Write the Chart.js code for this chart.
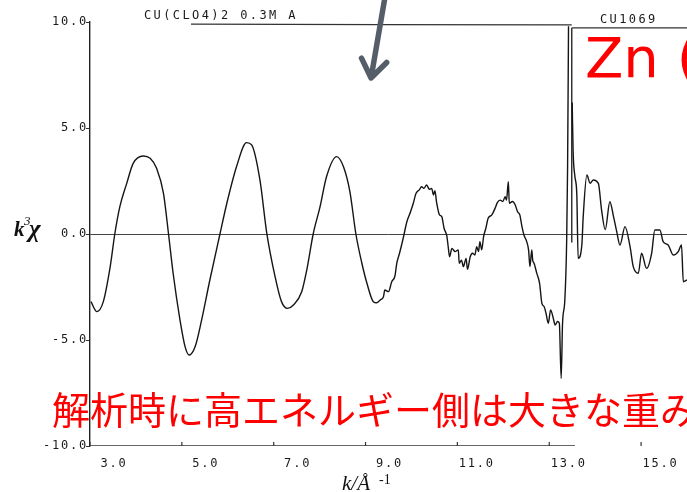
<!DOCTYPE html>
<html>
<head>
<meta charset="utf-8">
<script src="https://cdn.jsdelivr.net/npm/chart.js@4.4.1/dist/chart.umd.min.js"></script>
<style>
  html, body { margin: 0; padding: 0; background: #fff; }
  #wrap { width: 687px; height: 492px; }
</style>
</head>
<body>
<div id="wrap"><canvas id="exafs" width="687" height="492"></canvas></div>
<script>
// tick values
const kTicks = [3, 5, 7, 9, 11, 13, 15];
const chiTicks = [-10, -5, 0, 5, 10];

// CU(CLO4)2 0.3M A  (left scan)
const kLeft = [3.02, 3.15, 3.29, 3.44, 3.54, 3.65, 3.80, 3.94, 4.16, 4.31, 4.45, 4.60, 4.71, 4.81, 4.96,
  5.07, 5.16, 5.29, 5.43, 5.61, 5.83, 5.98, 6.19, 6.41, 6.52, 6.70, 6.85, 7.03, 7.17, 7.30, 7.43,
  7.61, 7.72, 7.86, 8.01, 8.15, 8.37, 8.52, 8.66, 8.79, 8.92, 9.03, 9.17, 9.24,
  9.32, 9.39, 9.42, 9.50, 9.57, 9.64, 9.68, 9.74, 9.82, 9.90, 9.98, 10.04, 10.10, 10.17, 10.22,
  10.27, 10.33, 10.39, 10.44, 10.48, 10.51, 10.55, 10.61, 10.66, 10.71, 10.77, 10.80, 10.83, 10.88,
  10.95, 11.02, 11.04, 11.09, 11.13, 11.19, 11.22, 11.28, 11.33, 11.38, 11.42, 11.46, 11.49, 11.53,
  11.57, 11.62, 11.67, 11.75, 11.82, 11.87, 11.93, 11.99, 12.04, 12.07, 12.11, 12.13, 12.20, 12.26,
  12.31, 12.36, 12.40, 12.45, 12.51, 12.55, 12.58, 12.62, 12.64, 12.67, 12.73, 12.79, 12.84, 12.89,
  12.93, 12.98, 13.03, 13.08, 13.13, 13.18, 13.22, 13.26, 13.29, 13.34, 13.38, 13.40, 13.42];
const chiLeft = [-3.19, -3.66, -3.19, -1.54, 0.0, 1.29, 2.39, 3.33, 3.68, 3.57, 3.10, 1.92, 0.0, -1.85, -4.06,
  -5.31, -5.71, -5.31, -4.06, -2.17, 0.0, 1.45, 3.17, 4.31, 4.20, 2.55, 0.03, -2.01, -3.19, -3.51, -3.35,
  -2.72, -1.70, 0.0, 1.29, 2.70, 3.65, 3.17, 1.99, 0.0, -1.38, -2.32, -3.19, -3.24,
  -3.11, -2.96, -2.64, -2.72, -2.25, -1.98, -1.38, -0.91, -0.20, 0.58, 1.05, 1.45, 1.92, 2.08, 2.23,
  2.15, 2.31, 2.11, 2.15, 1.84, 2.04, 1.45, 0.90, 0.82, 0.27, -0.09, -0.60, -1.07, -0.68,
  -0.83, -0.75, -1.38, -1.23, -1.54, -1.15, -1.67, -1.07, -0.91, -0.99, -0.60, -0.83, -0.36, -0.75,
  -0.13, 0.27, 0.74, 0.90, 1.21, 1.48, 1.60, 1.53, 1.76, 1.60, 2.47, 1.45, 1.53, 1.37,
  1.05, 0.90, 0.42, -0.05, -0.36, -0.75, -1.54, -0.75, -1.23, -1.38, -1.86, -2.33, -3.27, -3.43,
  -3.74, -4.21, -3.58, -3.90, -4.29, -4.13, -4.21, -6.81, -4.21, -3.11, -0.28, 3.18, 9.80];

// CU1069  (right scan)
const kRight = [13.50, 13.52, 13.56, 13.60, 13.63, 13.71, 13.74, 13.82, 13.89, 13.96, 14.07, 14.14, 14.22,
  14.32, 14.40, 14.47, 14.54, 14.65, 14.76, 14.83, 14.94, 15.01, 15.12, 15.23, 15.30, 15.41, 15.48,
  15.59, 15.70, 15.81, 15.88, 15.92, 16.00];
const chiRight = [6.20, 3.90, 2.70, 1.90, -1.15, -0.52, 0.82, 2.78, 2.39, 2.55, 2.39, 1.13, 0.20,
  1.52, 0.82, 0.11, -0.52, 0.35, -0.60, -1.54, -1.85, -0.91, -1.62, -0.91, 0.19, 0.19, -0.36,
  -0.52, -0.99, -0.83, -0.52, -2.25, -2.17];

// frame pieces of the two pasted scans
const topLeftK = [5.2, 13.49];
const topLeftChi = [9.9, 9.86];
const topRightK = [13.49, 16.0];
const topRightChi = [9.72, 9.72];
const edgeK = [13.49, 13.49];
const edgeChi = [9.72, -0.4];
const baseLeftK = [3.0, 13.56];
const baseLeftChi = [-10, -10];
const baseRightK = [14.37, 16.0];
const baseRightChi = [-10.08, -10.08];

// grey arrow annotation (data coordinates)
const arrowK = [9.42, 9.12];
const arrowChi = [11.13, 7.36];

const toPoints = (xs, ys) => xs.map((x, i) => ({ x: x, y: ys[i] }));

function lineSet(xs, ys, color, width) {
  return {
    data: toPoints(xs, ys),
    showLine: true,
    borderColor: color,
    borderWidth: width,
    pointRadius: 0,
    fill: false,
    cubicInterpolationMode: 'monotone'
  };
}

// wide printer-style spacing for the tick labels
const spacing = {
  id: 'spacing',
  beforeDraw(chart) { chart.ctx.letterSpacing = '1.8px'; },
  afterDraw(chart) { chart.ctx.letterSpacing = '0px'; }
};

const overlay = {
  id: 'overlay',
  afterDatasetsDraw(chart) {
    const ctx = chart.ctx;
    const xs = chart.scales.x, ys = chart.scales.y;
    ctx.save();
    ctx.letterSpacing = '0px';

    // inner tick marks on the k axis
    ctx.strokeStyle = '#333';
    ctx.lineWidth = 1.2;
    const yb = ys.getPixelForValue(-10);
    xs.ticks.forEach(t => {
      const px = xs.getPixelForValue(t.value);
      ctx.beginPath();
      ctx.moveTo(px, yb);
      ctx.lineTo(px, yb - 4);
      ctx.stroke();
    });

    // scan labels
    ctx.fillStyle = '#1a1a1a';
    ctx.font = '12px "DejaVu Sans Mono"';
    ctx.letterSpacing = '2.4px';
    ctx.textBaseline = 'alphabetic';
    ctx.fillText('CU(CLO4)2 0.3M A', 144, 19);
    ctx.fillText('CU1069', 600, 23);
    ctx.letterSpacing = '0px';

    // axis titles
    ctx.fillStyle = '#111';
    ctx.font = 'italic bold 21px "Liberation Serif"';
    ctx.fillText('k', 14, 236);
    ctx.font = 'italic 13px "Liberation Serif"';
    ctx.fillText('3', 24, 225);
    ctx.font = 'bold italic 25px "Liberation Serif"';
    ctx.fillText('χ', 29, 237);

    ctx.font = 'italic 21px "Liberation Serif"';
    ctx.fillText('k/Å', 342, 490);
    ctx.font = '14px "Liberation Serif"';
    ctx.fillText('-1', 379, 484);

    // arrow
    const x0 = xs.getPixelForValue(arrowK[0]), y0 = ys.getPixelForValue(arrowChi[0]);
    const x1 = xs.getPixelForValue(arrowK[1]), y1 = ys.getPixelForValue(arrowChi[1]);
    const ang = Math.atan2(y1 - y0, x1 - x0);
    ctx.strokeStyle = '#555d68';
    ctx.lineWidth = 5.5;
    ctx.lineCap = 'round';
    ctx.lineJoin = 'round';
    ctx.beginPath();
    ctx.moveTo(x0, y0);
    ctx.lineTo(x1, y1);
    ctx.moveTo(x1 - 22 * Math.cos(ang - 0.62), y1 - 22 * Math.sin(ang - 0.62));
    ctx.lineTo(x1, y1);
    ctx.lineTo(x1 - 22 * Math.cos(ang + 0.62), y1 - 22 * Math.sin(ang + 0.62));
    ctx.stroke();

    // red notes
    ctx.fillStyle = '#ff0000';
    ctx.font = '56px "DejaVu Sans"';
    ctx.fillText('Zn (', 585, 77);
    ctx.font = '38px "Noto Sans CJK JP"';
    ctx.fillText('解析時に高エネルギー側は大きな重み', 52, 424);
    ctx.restore();
  }
};

const chart = new Chart(document.getElementById('exafs').getContext('2d'), {
  type: 'scatter',
  data: {
    datasets: [
      lineSet(kLeft, chiLeft, '#151515', 1.4),
      lineSet(kRight, chiRight, '#151515', 1.4),
      lineSet(topLeftK, topLeftChi, '#333', 1.3),
      lineSet(topRightK, topRightChi, '#333', 1.3),
      lineSet(edgeK, edgeChi, '#333', 1.5),
      lineSet(baseLeftK, baseLeftChi, '#333', 1.5),
      lineSet(baseRightK, baseRightChi, '#333', 1.5)
    ]
  },
  options: {
    responsive: false,
    animation: false,
    layout: { padding: { top: 22, left: 0, right: 0, bottom: 0 } },
    plugins: { legend: { display: false }, tooltip: { enabled: false } },
    scales: {
      x: {
        type: 'linear',
        min: 3,
        max: 16,
        afterBuildTicks: s => { s.ticks = kTicks.map(v => ({ value: v })); },
        afterFit: s => { s.height = 46; },
        border: { display: false },
        grid: { display: false, drawTicks: false },
        ticks: {
          align: 'end',
          labelOffset: 37.5,
          padding: 11,
          color: '#1a1a1a',
          font: { family: 'DejaVu Sans Mono', size: 12 },
          callback: v => v.toFixed(1)
        }
      },
      y: {
        type: 'linear',
        min: -10,
        max: 10,
        afterBuildTicks: s => { s.ticks = chiTicks.map(v => ({ value: v })); },
        afterFit: s => { s.width = 90; },
        border: { display: true, color: '#222', width: 1.4 },
        grid: {
          color: c => (c.tick && c.tick.value === 0) ? '#444' : 'rgba(0,0,0,0)',
          tickColor: '#333',
          tickLength: 4,
          lineWidth: 1
        },
        ticks: {
          padding: -2,
          color: '#1a1a1a',
          font: { family: 'DejaVu Sans Mono', size: 12 },
          callback: v => v.toFixed(1)
        }
      }
    }
  },
  plugins: [spacing, overlay]
});
</script>
</body>
</html>
